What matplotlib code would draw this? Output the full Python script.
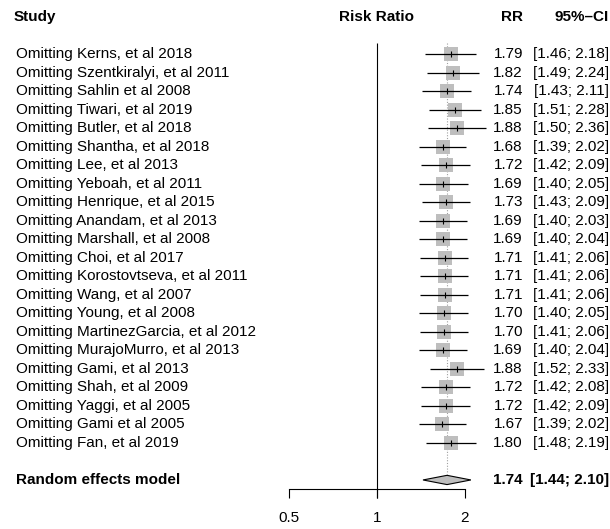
import numpy as np
import matplotlib
matplotlib.use('Agg')
import matplotlib.pyplot as plt
import matplotlib.transforms as mtransforms
from matplotlib.ticker import FixedLocator, FixedFormatter, NullLocator

plt.rcParams['font.family'] = ['Liberation Sans', 'DejaVu Sans']

# Leave-one-out data
studies = ['Omitting Kerns, et al 2018', 'Omitting Szentkiralyi, et al 2011',
           'Omitting Sahlin et al 2008', 'Omitting Tiwari, et al 2019',
           'Omitting Butler, et al 2018', 'Omitting Shantha, et al 2018',
           'Omitting Lee, et al 2013', 'Omitting Yeboah, et al 2011',
           'Omitting Henrique, et al 2015', 'Omitting Anandam, et al 2013',
           'Omitting Marshall, et al 2008', 'Omitting Choi, et al 2017',
           'Omitting Korostovtseva, et al 2011', 'Omitting Wang, et al 2007',
           'Omitting Young, et al 2008', 'Omitting MartinezGarcia, et al 2012',
           'Omitting MurajoMurro, et al 2013', 'Omitting Gami, et al 2013',
           'Omitting Shah, et al 2009', 'Omitting Yaggi, et al 2005',
           'Omitting Gami et al 2005', 'Omitting Fan, et al 2019']
rr = [1.79, 1.82, 1.74, 1.85, 1.88, 1.68, 1.72, 1.69, 1.73, 1.69, 1.69,
      1.71, 1.71, 1.71, 1.70, 1.70, 1.69, 1.88, 1.72, 1.72, 1.67, 1.80]
lower = [1.46, 1.49, 1.43, 1.51, 1.50, 1.39, 1.42, 1.40, 1.43, 1.40, 1.40,
         1.41, 1.41, 1.41, 1.40, 1.41, 1.40, 1.52, 1.42, 1.42, 1.39, 1.48]
upper = [2.18, 2.24, 2.11, 2.28, 2.36, 2.02, 2.09, 2.05, 2.09, 2.03, 2.04,
         2.06, 2.06, 2.06, 2.05, 2.06, 2.04, 2.33, 2.08, 2.09, 2.02, 2.19]
pooled = (1.74, 1.44, 2.10)
ticks = [0.5, 1, 2]
tick_labels = ['0.5', '1', '2']

W, H, DPI = 610, 529, 100
fig = plt.figure(figsize=(W / DPI, H / DPI), dpi=DPI)

# forest axes: 88 px per doubling, x=1 at 376.7 px
xmin, xmax = 0.4, 2.5
left_px = 376.7 + 88 * np.log2(xmin)
right_px = 376.7 + 88 * np.log2(xmax)
ax = fig.add_axes([left_px / W, 0, (right_px - left_px) / W, 1])
ax.set_xscale('log')
ax.set_xlim(xmin, xmax)
# rows: first study at 54 px, 18.52 px per row
row_h = 18.52
ax.set_ylim((H - 54) / row_h, -54 / row_h)
ax.patch.set_visible(False)
for s in ['top', 'right', 'left']:
    ax.spines[s].set_visible(False)

n = len(studies)
y = np.arange(n)
y_sum = n + 1

fs = 11

# axis at the bottom
ax.spines['bottom'].set_position(('data', y_sum + 0.5))
ax.spines['bottom'].set_bounds(ticks[0], ticks[-1])
ax.spines['bottom'].set_linewidth(0.8)
ax.xaxis.set_major_locator(FixedLocator(ticks))
ax.xaxis.set_major_formatter(FixedFormatter(tick_labels))
ax.xaxis.set_minor_locator(NullLocator())
ax.tick_params(axis='x', direction='out', length=6.5, width=0.8, pad=9.5, labelsize=fs)
ax.set_yticks([])

# reference lines
ax.vlines(1, -0.6, y_sum + 0.98, color='black', lw=0.8)
ax.vlines(pooled[0], -0.6, y_sum - 0.3, color='#A0A0A0', lw=0.8, linestyles=(0, (1, 1.5)))

# study estimates
ax.scatter(rr, y, marker='s', s=115, color='#BEBEBE', lw=0, zorder=2)
ax.hlines(y, lower, upper, color='black', lw=0.9, zorder=3)
ax.scatter(rr, y, marker='|', s=24, color='black', lw=0.8, zorder=4)

# pooled diamond
est, lo, hi = pooled
dh = 0.25
ax.fill([lo, est, hi, est], [y_sum, y_sum - dh, y_sum, y_sum + dh],
        facecolor='#BEBEBE', edgecolor='black', lw=0.8, zorder=3)

# text columns
tr = mtransforms.blended_transform_factory(fig.transFigure, ax.transData)
x_rr, x_ci = 523 / W, 609 / W
ax.text(14 / W, -2, 'Study', transform=tr, fontsize=fs, fontweight='bold', va='center')
ax.text(376.7 / W, -2, 'Risk Ratio', transform=tr, fontsize=fs, fontweight='bold',
        va='center', ha='center')
ax.text(x_rr, -2, 'RR', transform=tr, fontsize=fs, fontweight='bold', va='center', ha='right')
ax.text(x_ci, -2, '95%\u2013CI', transform=tr, fontsize=fs, fontweight='bold',
        va='center', ha='right')

for i in range(n):
    ax.text(16 / W, y[i], studies[i], transform=tr, fontsize=fs, va='center')
    ax.text(x_rr, y[i], f'{rr[i]:.2f}', transform=tr, fontsize=fs, va='center', ha='right')
    ax.text(x_ci, y[i], f'[{lower[i]:.2f}; {upper[i]:.2f}]', transform=tr, fontsize=fs,
            va='center', ha='right')

ax.text(16 / W, y_sum, 'Random effects model', transform=tr, fontsize=fs,
        fontweight='bold', va='center')
ax.text(x_rr, y_sum, f'{est:.2f}', transform=tr, fontsize=fs, fontweight='bold',
        va='center', ha='right')
ax.text(x_ci, y_sum, f'[{lo:.2f}; {hi:.2f}]', transform=tr, fontsize=fs,
        fontweight='bold', va='center', ha='right')

fig.savefig('out.png', dpi=DPI)
